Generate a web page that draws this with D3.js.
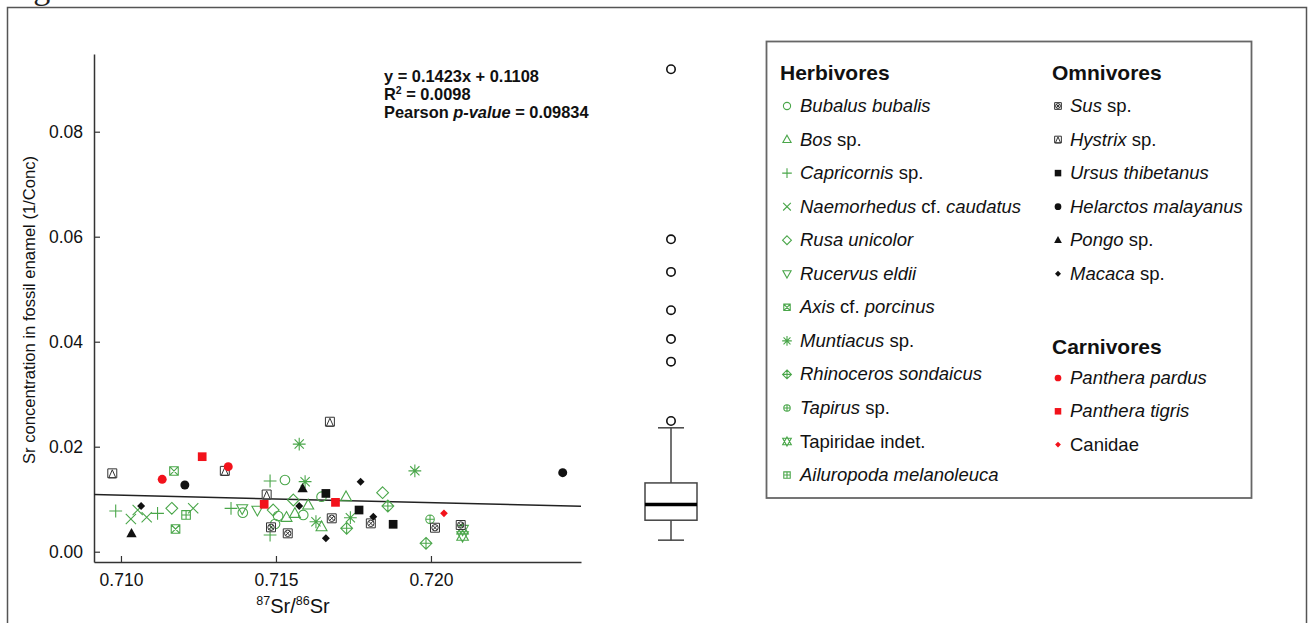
<!DOCTYPE html>
<html>
<head>
<meta charset="utf-8">
<script src="https://cdn.jsdelivr.net/npm/d3@7"></script>
<style>
  html, body { margin: 0; padding: 0; background: #fff; }
  svg { display: block; font-family: "Liberation Sans", Arial, Helvetica, sans-serif; }
</style>
</head>
<body>
<svg id="chart" width="1312" height="623"></svg>
<script>
// ---- Data: [87Sr/86Sr, 1/Conc] per taxon ----
// Herbivores
const bubalusBubalis   = [[0.71529, 0.01366], [0.71647, 0.01048], [0.71507, 0.00680], [0.71588, 0.00700], [0.71393, 0.00743], [0.71497, 0.00528]];
const bosSp            = [[0.71726, 0.01048], [0.71604, 0.00890], [0.71534, 0.00655], [0.71561, 0.00730], [0.71647, 0.00476]];
const capricornisSp    = [[0.70983, 0.00775], [0.71118, 0.00730], [0.71355, 0.00826], [0.71481, 0.01347], [0.71481, 0.00318]];
const naemorhedus      = [[0.71054, 0.00794], [0.71032, 0.00623], [0.71083, 0.00655], [0.71233, 0.00826]];
const rusaUnicolor     = [[0.71164, 0.00826], [0.71491, 0.00794], [0.71556, 0.00985], [0.71844, 0.01124]];
const rucervusEldii    = [[0.71391, 0.00819], [0.71440, 0.00790]];
const axisPorcinus     = [[0.71171, 0.01537], [0.71176, 0.00432]];
const muntiacusSp      = [[0.71575, 0.02050], [0.71948, 0.01540], [0.71594, 0.01334], [0.71629, 0.00571], [0.71740, 0.00648]];
const rhinoceros       = [[0.71861, 0.00870], [0.71728, 0.00446], [0.71984, 0.00160]];
const tapirusSp        = [[0.71997, 0.00617]];
const tapiridae        = [[0.72102, 0.00420], [0.72102, 0.00300]];
const ailuropoda       = [[0.71210, 0.00700]];
// Omnivores
const susSp            = [[0.71484, 0.00465], [0.71538, 0.00350], [0.71680, 0.00636], [0.71806, 0.00540], [0.72013, 0.00457], [0.72096, 0.00509]];
const hystrixSp        = [[0.70972, 0.01493], [0.71335, 0.01540], [0.71470, 0.01090], [0.71674, 0.02476]];
const ursusThibetanus  = [[0.71661, 0.01110], [0.71768, 0.00794], [0.71878, 0.00522]];
const helarctos        = [[0.71206, 0.01270], [0.72425, 0.01505]];
const pongoSp          = [[0.71034, 0.00350], [0.71586, 0.01207]];
const macacaSp         = [[0.71065, 0.00870], [0.71575, 0.00870], [0.71773, 0.01334], [0.71814, 0.00667], [0.71661, 0.00255]];
// Carnivores
const pantheraPardus   = [[0.71133, 0.01379], [0.71346, 0.01620]];
const pantheraTigris   = [[0.71262, 0.01810], [0.71462, 0.00903], [0.71692, 0.00940]];
const canidae          = [[0.72042, 0.00731]];

// Linear fit drawn across the plot
const fitSlope = -0.1423;
const fitIntercept = 0.1118;
const fitLabels = ["y = 0.1423x + 0.1108", "0.0098", "0.09834"];

// Box plot of 1/Conc
const boxStats = { lowWhisker: 0.0022, q1: 0.0060, median: 0.0090, q3: 0.0131, highWhisker: 0.0236 };
const boxOutliers = [0.0249, 0.0362, 0.0405, 0.0460, 0.0533, 0.0595, 0.0919];

// Axes
const xTicks = [0.710, 0.715, 0.720];
const yTicks = [0.00, 0.02, 0.04, 0.06, 0.08];
const xDomain = [0.70913, 0.72484];
const yDomain = [-0.00196, 0.0948];

// Legend groups (text between * * is italic)
const herbivoreLegend = [
  ["*Bubalus bubalis*", "circleOpen", bubalusBubalis],
  ["*Bos* sp.", "triangleOpen", bosSp],
  ["*Capricornis* sp.", "plus", capricornisSp],
  ["*Naemorhedus* cf. *caudatus*", "times", naemorhedus],
  ["*Rusa unicolor*", "diamondOpen", rusaUnicolor],
  ["*Rucervus eldii*", "triangleDownOpen", rucervusEldii],
  ["*Axis* cf. *porcinus*", "squareTimes", axisPorcinus],
  ["*Muntiacus* sp.", "asterisk", muntiacusSp],
  ["*Rhinoceros sondaicus*", "diamondPlus", rhinoceros],
  ["*Tapirus* sp.", "circlePlus", tapirusSp],
  ["Tapiridae indet.", "starDavid", tapiridae],
  ["*Ailuropoda melanoleuca*", "squarePlus", ailuropoda]
];
const omnivoreLegend = [
  ["*Sus* sp.", "squareCircleTimes", susSp],
  ["*Hystrix* sp.", "squareTriangle", hystrixSp],
  ["*Ursus thibetanus*", "squareFilled", ursusThibetanus],
  ["*Helarctos malayanus*", "circleFilled", helarctos],
  ["*Pongo* sp.", "triangleFilled", pongoSp],
  ["*Macaca* sp.", "diamondFilled", macacaSp]
];
const carnivoreLegend = [
  ["*Panthera pardus*", "circleFilled", pantheraPardus],
  ["*Panthera tigris*", "squareFilled", pantheraTigris],
  ["Canidae", "diamondSmall", canidae]
];
const groupColors = { herb: "#4aa64a", omni: "#111111", carn: "#f2121b" };

// ---- Symbol shapes ----
const circ = r => `M${-r},0A${r},${r} 0 1,0 ${r},0A${r},${r} 0 1,0 ${-r},0Z`;
const sq = s => `M${-s},${-s}H${s}V${s}H${-s}Z`;
const tri = s => `M0,${-s}L${s * 0.95},${s * 0.7}L${-s * 0.95},${s * 0.7}Z`;
const triDown = s => `M0,${s}L${s * 0.95},${-s * 0.7}L${-s * 0.95},${-s * 0.7}Z`;
const plusP = s => `M${-s},0H${s}M0,${-s}V${s}`;
const timesP = s => `M${-s},${-s}L${s},${s}M${s},${-s}L${-s},${s}`;
const diam = s => `M0,${-s}L${s},0L0,${s}L${-s},0Z`;

const SHAPES = {
  circleOpen:        s => circ(s * 0.75),
  triangleOpen:      s => tri(s * 0.9),
  plus:              s => plusP(s),
  times:             s => timesP(s * 0.8),
  diamondOpen:       s => diam(s * 0.92),
  triangleDownOpen:  s => triDown(s * 0.9),
  squareTimes:       s => sq(s * 0.67) + timesP(s * 0.67),
  asterisk:          s => plusP(s) + timesP(s * 0.72),
  diamondPlus:       s => diam(s * 0.92) + plusP(s * 0.92),
  circlePlus:        s => circ(s * 0.67) + plusP(s * 0.67),
  starDavid:         s => tri(s * 0.95) + triDown(s * 0.95),
  squarePlus:        s => sq(s * 0.67) + plusP(s * 0.67),
  squareCircleTimes: s => sq(s * 0.7) + circ(s * 0.5) + timesP(s * 0.36),
  squareTriangle:    s => sq(s * 0.7) + `M0,${-s * 0.55}L${s * 0.55},${s * 0.7}L${-s * 0.55},${s * 0.7}Z`,
  squareFilled:      s => sq(s * 0.68),
  circleFilled:      s => circ(s * 0.7),
  triangleFilled:    s => tri(s * 0.85),
  diamondFilled:     s => diam(s * 0.62),
  diamondSmall:      s => diam(s * 0.6)
};
const FILLED = new Set(["squareFilled", "circleFilled", "triangleFilled", "diamondFilled", "diamondSmall"]);

function drawSymbol(sel, kind, color, size) {
  const filled = FILLED.has(kind);
  const boxed = ["squareCircleTimes", "squareTriangle"].includes(kind);
  return sel.append("path")
    .attr("d", SHAPES[kind](size))
    .attr("fill", filled ? color : (boxed ? "#fff" : "none"))
    .attr("stroke", filled ? "none" : (boxed ? "#333" : color))
    .attr("stroke-width", boxed ? 1 : 1.1);
}

function richText(sel, markup) {
  markup.split(/(\*[^*]+\*)/).filter(p => p.length).forEach(p => {
    const it = p.startsWith("*");
    sel.append("tspan")
      .attr("font-style", it ? "italic" : "normal")
      .text(it ? p.slice(1, -1) : p);
  });
}

// ---- Drawing ----
const svg = d3.select("#chart");
const font = '"Liberation Sans", Arial, sans-serif';

// Figure caption (runs off the top of the page) and panel frame
svg.append("text").attr("x", 5).attr("y", -1.5)
  .attr("font-family", '"Liberation Serif", "Times New Roman", serif')
  .attr("font-size", 34).attr("fill", "#222").text("Figure 3");
svg.append("rect").attr("x", 7.5).attr("y", 7.5).attr("width", 1299).attr("height", 700)
  .attr("fill", "none").attr("stroke", "#555").attr("stroke-width", 1.5);

const x = d3.scaleLinear().domain(xDomain).range([94, 581]);
const y = d3.scaleLinear().domain(yDomain).range([562, 54]);

// Axes with inward ticks
const xAxis = svg.append("g").attr("transform", "translate(0,562)")
  .call(d3.axisBottom(x).tickValues(xTicks).tickFormat(d3.format(".3f"))
    .tickSizeInner(-6).tickSizeOuter(0).tickPadding(12));
const yAxis = svg.append("g").attr("transform", "translate(94,0)")
  .call(d3.axisLeft(y).tickValues(yTicks).tickFormat(d3.format(".2f"))
    .tickSizeInner(-6).tickSizeOuter(0).tickPadding(11));
[xAxis, yAxis].forEach(a => {
  a.attr("font-family", font).attr("font-size", 17.5);
  a.selectAll("path.domain").attr("stroke", "#333").attr("stroke-width", 1.5);
  a.selectAll(".tick line").attr("stroke", "#333").attr("stroke-width", 1.2);
  a.selectAll(".tick text").attr("fill", "#111");
});

// Axis titles
svg.append("text")
  .attr("transform", "translate(35,310) rotate(-90)")
  .attr("text-anchor", "middle").attr("font-size", 16.6).attr("fill", "#111")
  .text("Sr concentration in fossil enamel (1/Conc)");
const xt = svg.append("text").attr("x", 293).attr("y", 613)
  .attr("text-anchor", "middle").attr("font-size", 20).attr("fill", "#111");
xt.append("tspan").attr("font-size", 12.5).attr("dy", -8).text("87");
xt.append("tspan").attr("dy", 8).text("Sr/");
xt.append("tspan").attr("font-size", 12.5).attr("dy", -8).text("86");
xt.append("tspan").attr("dy", 8).text("Sr");

// Fit line
svg.append("line")
  .attr("x1", x(xDomain[0])).attr("y1", y(fitSlope * xDomain[0] + fitIntercept))
  .attr("x2", x(xDomain[1])).attr("y2", y(fitSlope * xDomain[1] + fitIntercept))
  .attr("stroke", "#222").attr("stroke-width", 1.5);

// Fit statistics
const eq = svg.append("g").attr("font-weight", "bold").attr("font-size", 16.4).attr("fill", "#111");
eq.append("text").attr("x", 384).attr("y", 82).text(fitLabels[0]);
const r2 = eq.append("text").attr("x", 384).attr("y", 100);
r2.append("tspan").text("R");
r2.append("tspan").attr("font-size", 10.5).attr("dy", -6).text("2");
r2.append("tspan").attr("dy", 6).text(" = " + fitLabels[1]);
const pv = eq.append("text").attr("x", 384).attr("y", 118);
pv.append("tspan").text("Pearson ");
pv.append("tspan").attr("font-style", "italic").text("p-value");
pv.append("tspan").text(" = " + fitLabels[2]);

// Scatter points
const plotGroups = [
  [herbivoreLegend, groupColors.herb],
  [omnivoreLegend, groupColors.omni],
  [carnivoreLegend, groupColors.carn]
];
const pts = svg.append("g");
plotGroups.forEach(([items, color]) => {
  items.forEach(([label, kind, values]) => {
    values.forEach(([vx, vy]) => {
      const g = pts.append("g").attr("transform", `translate(${x(vx)},${y(vy)})`);
      drawSymbol(g, kind, color, 6.4);
    });
  });
});

// Box plot
const bx = 671, bw = 26, cap = 13;
const box = svg.append("g").attr("stroke", "#444").attr("stroke-width", 1.5).attr("fill", "none");
box.append("line").attr("x1", bx).attr("x2", bx).attr("y1", y(boxStats.highWhisker)).attr("y2", y(boxStats.q3));
box.append("line").attr("x1", bx).attr("x2", bx).attr("y1", y(boxStats.q1)).attr("y2", y(boxStats.lowWhisker));
box.append("line").attr("x1", bx - cap).attr("x2", bx + cap).attr("y1", y(boxStats.highWhisker)).attr("y2", y(boxStats.highWhisker));
box.append("line").attr("x1", bx - cap).attr("x2", bx + cap).attr("y1", y(boxStats.lowWhisker)).attr("y2", y(boxStats.lowWhisker));
box.append("rect").attr("x", bx - bw).attr("width", 2 * bw)
  .attr("y", y(boxStats.q3)).attr("height", y(boxStats.q1) - y(boxStats.q3)).attr("fill", "#fff");
box.append("line").attr("x1", bx - bw).attr("x2", bx + bw)
  .attr("y1", y(boxStats.median)).attr("y2", y(boxStats.median))
  .attr("stroke", "#000").attr("stroke-width", 3.5);
box.selectAll("circle.out").data(boxOutliers).join("circle")
  .attr("cx", bx).attr("cy", d => y(d)).attr("r", 4.2)
  .attr("stroke", "#111").attr("stroke-width", 1.6).attr("fill", "#fff");

// Legend
const lg = svg.append("g").attr("fill", "#111");
lg.append("rect").attr("x", 766.5).attr("y", 41.5).attr("width", 485).attr("height", 456.5)
  .attr("fill", "#fff").attr("stroke", "#666").attr("stroke-width", 1.8);

function legendColumn(title, items, color, tx, ty, symX, textX, y0, step) {
  lg.append("text").attr("x", tx).attr("y", ty)
    .attr("font-weight", "bold").attr("font-size", 21).text(title);
  items.forEach(([label, kind], i) => {
    const by = y0 + i * step;
    const g = lg.append("g").attr("transform", `translate(${symX},${by - 6})`);
    drawSymbol(g, kind, color, 4.8);
    const t = lg.append("text").attr("x", textX).attr("y", by).attr("font-size", 18.5);
    richText(t, label);
  });
}
legendColumn("Herbivores", herbivoreLegend, groupColors.herb, 780, 79.5, 787, 800, 112, 33.55);
legendColumn("Omnivores", omnivoreLegend, groupColors.omni, 1052, 79.5, 1058, 1070, 112, 33.55);
legendColumn("Carnivores", carnivoreLegend, groupColors.carn, 1052, 353.5, 1058, 1070, 384, 33.3);
</script>
</body>
</html>
